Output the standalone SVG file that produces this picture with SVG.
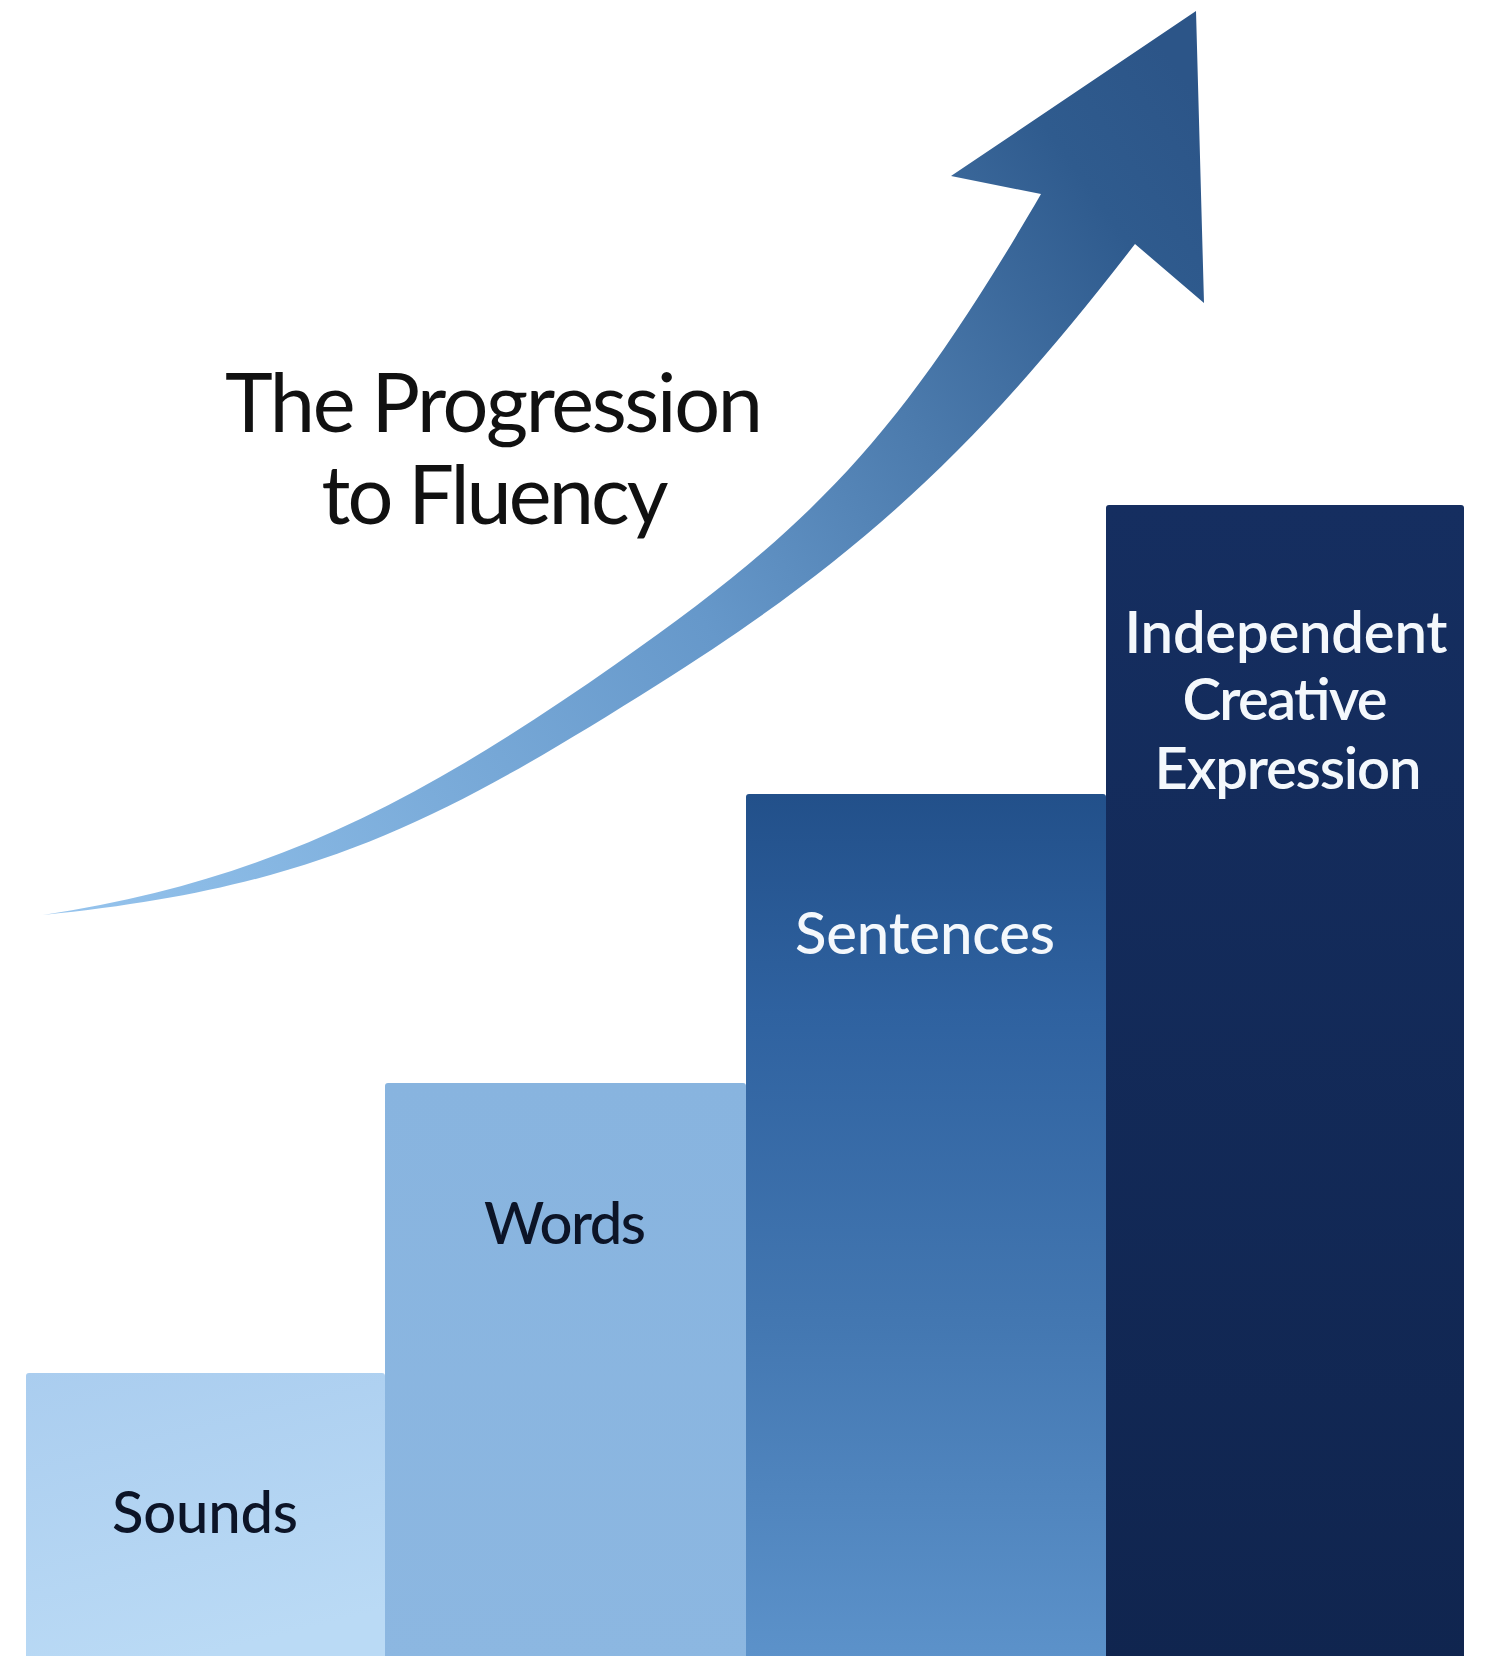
<svg xmlns="http://www.w3.org/2000/svg" width="1485" height="1656" viewBox="0 0 1485 1656">
  <style>
    .title { font-family: Lato, "Open Sans", "Liberation Sans", sans-serif; font-size: 81px; font-weight: 400; fill: #111111; text-anchor: middle; }
    .lbl { font-family: Lato, "Open Sans", "Liberation Sans", sans-serif; font-size: 58px; font-weight: 500; text-anchor: middle; }
    .dark { fill: #0c1427; }
    .light { fill: #f4f8fc; }
    .bold { font-weight: 600; }
  </style>
  <defs>
    <linearGradient id="gSounds" x1="0" y1="0" x2="0.3" y2="1">
      <stop offset="0" stop-color="#aacdef"/>
      <stop offset="1" stop-color="#badaf5"/>
    </linearGradient>
    <linearGradient id="gWords" x1="0" y1="0" x2="0" y2="1">
      <stop offset="0" stop-color="#88b4df"/>
      <stop offset="1" stop-color="#8cb7e1"/>
    </linearGradient>
    <linearGradient id="gSent" x1="0" y1="0" x2="0" y2="1">
      <stop offset="0" stop-color="#22508a"/>
      <stop offset="0.25" stop-color="#2f62a0"/>
      <stop offset="0.6" stop-color="#4377b1"/>
      <stop offset="1" stop-color="#5d93cb"/>
    </linearGradient>
    <linearGradient id="gIndep" x1="0" y1="0" x2="0" y2="1">
      <stop offset="0" stop-color="#152e60"/>
      <stop offset="1" stop-color="#10254f"/>
    </linearGradient>
    <linearGradient id="gArrow" gradientUnits="userSpaceOnUse" x1="45" y1="915" x2="1200" y2="100">
      <stop offset="0" stop-color="#98c5ee"/>
      <stop offset="0.1" stop-color="#8bbbe6"/>
      <stop offset="0.5" stop-color="#6698ca"/>
      <stop offset="0.7" stop-color="#4c7bad"/>
      <stop offset="0.9" stop-color="#2f5b8e"/>
      <stop offset="1" stop-color="#2c5588"/>
    </linearGradient>
  </defs>

  <rect x="0" y="0" width="1485" height="1656" fill="#ffffff"/>

  <g id="connectors">
    <path id="arrow" fill="url(#gArrow)" d="M43,915
      C273,880.5 426,797 616,664
      C816,524 901,434.6 1041,194
      L951,176 L1196,11 L1204,303 L1135,244
      C975,452 857,559 657,685
      C437,823.6 313,888 43,915 Z"/>
  </g>

  <g id="title">
    <text class="title" x="494" y="432" textLength="538" lengthAdjust="spacing">The Progression</text>
    <text class="title" x="495" y="524" textLength="347" lengthAdjust="spacing">to Fluency</text>
  </g>

  <g id="sounds">
    <rect x="26" y="1373" width="359" height="300" rx="3" fill="url(#gSounds)"/>
    <text class="lbl dark" x="205" y="1533" textLength="186" lengthAdjust="spacing">Sounds</text>
  </g>

  <g id="words">
    <rect x="385" y="1083" width="361" height="590" rx="3" fill="url(#gWords)"/>
    <text class="lbl dark" x="565" y="1244" textLength="162" lengthAdjust="spacing">Words</text>
  </g>

  <g id="sentences">
    <rect x="746" y="794" width="360" height="879" rx="3" fill="url(#gSent)"/>
    <text class="lbl light" x="925" y="954" textLength="260" lengthAdjust="spacing">Sentences</text>
  </g>

  <g id="independent">
    <rect x="1106" y="505" width="358" height="1168" rx="3" fill="url(#gIndep)"/>
    <text class="lbl light bold" x="1286" y="653" textLength="323" lengthAdjust="spacing">Independent</text>
    <text class="lbl light bold" x="1285" y="720" textLength="205" lengthAdjust="spacing">Creative</text>
    <text class="lbl light bold" x="1288" y="789" textLength="267" lengthAdjust="spacing">Expression</text>
  </g>
</svg>
